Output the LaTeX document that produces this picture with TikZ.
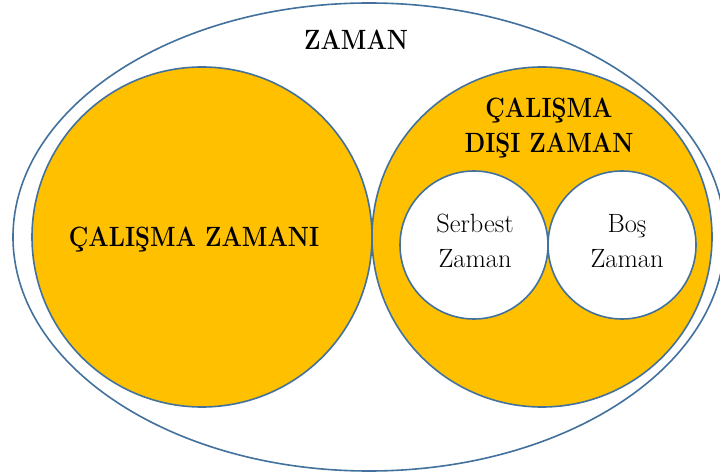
\documentclass[tikz,border=0pt]{standalone}
\usepackage{graphicx}
\newcommand\narrowbold[1]{\scalebox{0.86}[1]{\bfseries #1}}
\definecolor{gold}{HTML}{FFC000}
\definecolor{rim}{HTML}{41719C}
\begin{document}
\begin{tikzpicture}[x=1bp,y=-1bp,
  rimline/.style={draw=rim,line width=1.6bp},
  big/.style={font=\fontsize{28}{34}\selectfont,anchor=base,inner sep=0pt},
  small/.style={font=\fontsize{26.5}{32}\selectfont,anchor=base,inner sep=0pt}]
\useasboundingbox (0,0) rectangle (720,474);
\fill[white] (0,0) rectangle (720,474);
\draw[rimline,fill=white] (369,237) ellipse [x radius=356, y radius=234];
\draw[rimline,fill=gold] (202,237) circle [radius=170];
\draw[rimline,fill=gold] (542,237) circle [radius=170];
\draw[rimline,fill=white] (474,245) circle [radius=74];
\draw[rimline,fill=white] (622,245) circle [radius=74];
\node[big] (zaman) at (356,50) {\narrowbold{ZAMAN}};
\node[big] (cz) at (194,247) {\narrowbold{ÇALIŞMA ZAMANI}};
\node[big] (cdz1) at (549,118) {\narrowbold{ÇALIŞMA}};
\node[big] (cdz2) at (549,153) {\narrowbold{DIŞI ZAMAN}};
\node[small] (sz1) at (475,233) {Serbest};
\node[small] (sz2) at (475,268) {Zaman};
\node[small] (bz1) at (627,233) {Boş};
\node[small] (bz2) at (627,268) {Zaman};
\end{tikzpicture}
\end{document}
